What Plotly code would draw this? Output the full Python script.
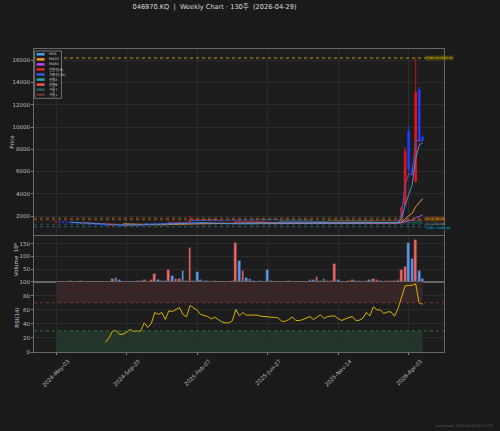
import pandas as pd
import plotly.graph_objects as go
from plotly.subplots import make_subplots

# weekly bars, labelled by week-ending Friday
dates = pd.date_range("2024-05-03", periods=105, freq="W-FRI")

opens = [1460, 1480, 1470, 1450, 1430, 1400, 1390, 1330, 1340, 1320,
         1290, 1270, 1250, 1230, 1200, 1150, 1160, 1210, 1195, 1172,
         1170, 1180, 1195, 1185, 1195, 1190, 1230, 1200, 1225, 1305,
         1315, 1310, 1270, 1360, 1335, 1360, 1390, 1330, 1310, 1450,
         1430, 1400, 1370, 1365, 1355, 1340, 1350, 1335, 1315, 1306,
         1305, 1315, 1400, 1370, 1390, 1380, 1375, 1372, 1374, 1368,
         1380, 1362, 1360, 1356, 1352, 1330, 1335, 1345, 1360, 1336,
         1335, 1342, 1365, 1360, 1345, 1355, 1370, 1350, 1362, 1365,
         1367, 1352, 1340, 1350, 1357, 1364, 1340, 1342, 1400, 1390,
         1370, 1400, 1415, 1412, 1395, 1395, 1405, 1380, 1940, 3000,
         9650, 6200, 5100, 13360, 9100]
highs = [1500, 1490, 1475, 1460, 1440, 1410, 1395, 1420, 1345, 1325,
         1300, 1275, 1255, 1235, 1205, 1175, 1260, 1240, 1200, 1180,
         1190, 1200, 1198, 1190, 1200, 1260, 1235, 1240, 1340, 1320,
         1330, 1315, 1570, 1390, 1380, 1400, 1420, 1340, 2030, 1470,
         1480, 1405, 1380, 1370, 1360, 1360, 1352, 1340, 1320, 1312,
         1320, 1650, 1450, 1420, 1400, 1385, 1380, 1378, 1378, 1370,
         1420, 1366, 1362, 1360, 1355, 1340, 1360, 1365, 1362, 1340,
         1345, 1352, 1372, 1362, 1400, 1375, 1380, 1366, 1368, 1460,
         1372, 1355, 1354, 1360, 1380, 1366, 1346, 1358, 1420, 1395,
         1450, 1440, 1420, 1415, 1410, 1415, 1408, 1440, 2900, 8200,
         10180, 6600, 16200, 13650, 9300]
lows = [1440, 1455, 1440, 1420, 1390, 1375, 1350, 1320, 1310, 1280,
        1260, 1240, 1220, 1190, 1130, 1140, 1150, 1180, 1160, 1160,
        1165, 1175, 1180, 1175, 1180, 1185, 1195, 1195, 1220, 1280,
        1300, 1260, 1265, 1320, 1330, 1355, 1320, 1300, 1305, 1420,
        1390, 1360, 1355, 1350, 1335, 1335, 1330, 1310, 1300, 1298,
        1300, 1310, 1360, 1360, 1370, 1365, 1368, 1368, 1362, 1360,
        1355, 1355, 1350, 1348, 1325, 1326, 1330, 1342, 1330, 1330,
        1332, 1340, 1350, 1340, 1342, 1352, 1345, 1348, 1358, 1350,
        1348, 1336, 1338, 1348, 1352, 1336, 1336, 1340, 1380, 1365,
        1368, 1395, 1405, 1390, 1392, 1390, 1375, 1378, 1900, 2950,
        5510, 5600, 5000, 8230, 8700]
closes = [1480, 1470, 1450, 1430, 1400, 1390, 1360, 1340, 1320, 1290,
          1270, 1250, 1230, 1200, 1150, 1165, 1190, 1195, 1170, 1170,
          1180, 1195, 1185, 1180, 1190, 1230, 1200, 1225, 1300, 1290,
          1310, 1270, 1340, 1335, 1360, 1380, 1330, 1310, 1450, 1430,
          1400, 1370, 1365, 1355, 1340, 1350, 1335, 1315, 1305, 1305,
          1315, 1400, 1370, 1390, 1375, 1375, 1372, 1374, 1368, 1365,
          1362, 1360, 1356, 1352, 1330, 1335, 1345, 1360, 1335, 1335,
          1342, 1350, 1360, 1345, 1355, 1370, 1350, 1362, 1365, 1367,
          1352, 1340, 1350, 1357, 1364, 1340, 1342, 1355, 1390, 1370,
          1430, 1415, 1412, 1395, 1405, 1405, 1380, 1430, 2750, 7850,
          6180, 5900, 13150, 8800, 8850]
# volume in millions of shares
volume_m = [1.0, 0.8, 1.2, 1.5, 2.0, 1.2, 1.0, 4.5, 1.0, 0.8,
            0.7, 0.9, 1.0, 0.8, 1.2, 1.5, 12, 14.5, 6.5, 1.5,
            1.2, 1.0, 1.5, 2.0, 3.0, 6.5, 1.5, 9, 33, 8,
            4, 5, 46, 22, 13, 13.5, 42, 5, 133, 4,
            38, 6, 4, 2, 1.5, 3, 1.2, 1.0, 1.5, 1.2,
            2.0, 154, 82, 42, 14.5, 11, 3, 1.5, 4, 1.5,
            49, 2, 1.2, 1.0, 1.2, 1.0, 2.5, 1.0, 1.2, 0.8,
            1.0, 1.5, 6, 6, 18.5, 2, 13, 4, 2, 71,
            6, 1.5, 1.2, 3, 8, 4, 2, 1.5, 5, 7,
            10, 7, 4, 1.5, 2, 5, 4, 6, 49, 58,
            155, 92, 164, 45, 13]
# RSI(14): first 14 weeks have no value
rsi_values = [None] * 14 + [
    13.4, 20, 29.5, 30.5, 25, 25.3, 28, 32, 29.5, 29.5,
    30, 41.4, 34.8, 40.5, 56.2, 53.4, 56.2, 46.2, 58.6, 57.6,
    61, 63.3, 53.4, 50, 66.2, 63.3, 59.5, 53.4, 52.4, 50.5,
    47.1, 49.5, 46.2, 42.9, 41.4, 41.4, 44.3, 60.5, 51.4, 56.2,
    52.4, 52.4, 52.2, 52.6, 51, 50.2, 49.8, 49.5, 49.3, 48.5,
    43.5, 43.8, 46.2, 50, 44.8, 44.8, 46.2, 48.1, 50.5, 46.2,
    49, 52.9, 47.6, 50.5, 51, 51.4, 47.6, 44.8, 47.1, 49,
    50.5, 44.8, 45.2, 48.1, 56.2, 51.4, 64.3, 60, 59.5, 54.8,
    57.1, 57.1, 51, 62, 78.6, 94, 94.8, 94.8, 97.2, 69, 68.2]

level_values = [16200, 1730, 1250, 1040]
level_labels = ["52W H 16200.00", "R1 1730.00", "S1 1250.00", "52W L 1040.00"]
tick_dates = [dates[i] for i in (0, 20, 40, 60, 80, 100)]

FONT = "DejaVu Sans, Noto Sans CJK KR, sans-serif"
BG = "#1a1a1a"
PLOT_BG = "#1d1d1d"
GRID = "#2b2b2b"
SPINE = "#666666"
TICK = "#bdbdbd"
UP, DOWN = "#f01414", "#1f3dff"

# indicators from the bars
close = pd.Series(closes)
high = pd.Series(highs)
low = pd.Series(lows)
ma5 = close.rolling(5).mean()
ma20 = close.rolling(20).mean()
ma60 = close.rolling(60).mean()
tenkan = (high.rolling(9).max() + low.rolling(9).min()) / 2
kijun = (high.rolling(26).max() + low.rolling(26).min()) / 2
span_a = ((tenkan + kijun) / 2).shift(26)
span_b = ((high.rolling(52).max() + low.rolling(52).min()) / 2).shift(26)

# plot area in pixels: x 30..444, y 49..352
L, R, T, B = 30, 56, 49, 79
W, H = 500, 431
PW, PH = W - L - R, H - T - B


def px(x):
    return (x - L) / PW


def py(y):
    return (H - B - y) / PH


fig = make_subplots(rows=3, cols=1, shared_xaxes=True, vertical_spacing=0)

# cloud, then the lines, then the candles on top
fig.add_trace(go.Scatter(x=dates, y=span_b, mode="lines",
                         line=dict(color="rgba(239,83,80,0.55)", width=0.7)), row=1, col=1)
fig.add_trace(go.Scatter(x=dates, y=span_a, mode="lines", fill="tonexty",
                         fillcolor="rgba(38,166,154,0.18)",
                         line=dict(color="rgba(38,166,154,0.6)", width=0.7)), row=1, col=1)
fig.add_trace(go.Scatter(x=dates, y=tenkan, mode="lines",
                         line=dict(color="#d62728", width=0.8)), row=1, col=1)
fig.add_trace(go.Scatter(x=dates, y=kijun, mode="lines",
                         line=dict(color="#2f5bd6", width=0.8)), row=1, col=1)
fig.add_trace(go.Scatter(x=dates, y=ma60, mode="lines",
                         line=dict(color="#b844e6", width=1)), row=1, col=1)
fig.add_trace(go.Scatter(x=dates, y=ma20, mode="lines",
                         line=dict(color="#f0913a", width=1)), row=1, col=1)
fig.add_trace(go.Scatter(x=dates, y=ma5, mode="lines",
                         line=dict(color="#3f8fe0", width=1)), row=1, col=1)
fig.add_trace(go.Candlestick(
    x=dates, open=opens, high=highs, low=lows, close=closes,
    increasing=dict(line=dict(color=UP, width=0.8), fillcolor=UP),
    decreasing=dict(line=dict(color=DOWN, width=0.8), fillcolor=DOWN),
    whiskerwidth=0), row=1, col=1)

vol_colors = ["#f26464" if c >= o else "#5c96f2" for o, c in zip(opens, closes)]
fig.add_trace(go.Bar(x=dates, y=volume_m, width=0.8 * 7 * 86400000,
                     marker=dict(color=vol_colors, line=dict(color="#2a2a2a", width=0.5))),
              row=2, col=1)

fig.add_trace(go.Scatter(x=dates, y=rsi_values, mode="lines",
                         line=dict(color="#d9b400", width=1)), row=3, col=1)

shapes = []
# RSI zones
shapes.append(dict(type="rect", xref="x3", yref="y3", x0=dates[0], x1=dates[-1], y0=70, y1=100,
                   fillcolor="#382626", line_width=0, layer="below"))
shapes.append(dict(type="rect", xref="x3", yref="y3", x0=dates[0], x1=dates[-1], y0=0, y1=30,
                   fillcolor="#233629", line_width=0, layer="below"))
shapes.append(dict(type="line", xref="x3 domain", yref="y3", x0=0, x1=1, y0=70, y1=70,
                   line=dict(color="#7a3636", width=1, dash="dot")))
shapes.append(dict(type="line", xref="x3 domain", yref="y3", x0=0, x1=1, y0=30, y1=30,
                   line=dict(color="#3a6e46", width=1, dash="dot")))

# price levels; labels sit at fixed pixel rows so they don't collide
level_styles = [
    ("rgba(170,150,0,0.55)", 2, "#d8bc00", "rgba(100,85,0,0.5)", 58),
    ("rgba(190,110,30,0.45)", 3, "#e89a3c", "rgba(110,65,10,0.55)", 219.3),
    ("rgba(60,110,120,0.6)", 1, "#8fa6b8", "rgba(0,0,0,0)", 223.6),
    ("rgba(40,150,170,0.6)", 1, "#2cb0d0", "rgba(10,40,50,0.6)", 227.5),
]
annotations = []
for val, lab, (lc, lw, tc, bg, ly) in zip(level_values, level_labels, level_styles):
    shapes.append(dict(type="line", xref="x domain", yref="y", x0=0, x1=1, y0=val, y1=val,
                       line=dict(color=lc, width=lw, dash="dot")))
    annotations.append(dict(xref="paper", yref="paper", x=px(425), y=py(ly), text=lab,
                            showarrow=False, xanchor="left", yanchor="middle",
                            font=dict(size=3.2, color=tc, family=FONT),
                            bgcolor=bg, borderpad=0))

# legend drawn by hand to keep it compact
legend_items = [("MA5", "#3f9bf0"), ("MA20", "#f0913a"), ("MA60", "#c040f0"),
                ("전환선(9)", "#e02828"), ("기준선(26)", "#2f5bd6"),
                ("선행A", "#26a69a"), ("선행B", "#ef5350"),
                ("구름↑", "#2d5a55"), ("구름↓", "#6a2e2e")]
shapes.append(dict(type="rect", xref="paper", yref="paper", x0=px(30.7), x1=px(57.7),
                   y0=py(98.3), y1=py(51), fillcolor="rgba(26,26,26,0.85)",
                   line=dict(color="#8a8a8a", width=0.8)))
for i, (name, col) in enumerate(legend_items):
    yc = 54.3 + i * 5.05
    shapes.append(dict(type="rect", xref="paper", yref="paper", x0=px(32.7), x1=px(40.7),
                       y0=py(yc + 1.3), y1=py(yc - 1.3), fillcolor=col, line_width=0))
    annotations.append(dict(xref="paper", yref="paper", x=px(42.7), y=py(yc), text=name,
                            showarrow=False, xanchor="left", yanchor="middle",
                            font=dict(size=3.4, color="#cfcfcf", family=FONT)))

# axis titles
for text, x, y in [("Price", 7.5, 142), ("Volume  10⁶", 12, 259), ("RSI(14)", 12.5, 318)]:
    annotations.append(dict(xref="paper", yref="paper", x=px(x), y=py(y), text=text,
                            textangle=-90, showarrow=False, xanchor="center", yanchor="middle",
                            font=dict(size=5.5, color="#cccccc", family=FONT)))

annotations.append(dict(xref="paper", yref="paper", x=px(497), y=py(425.7),
                        text="Generated: 2026-04-29 06:38 KST", showarrow=False,
                        xanchor="right", yanchor="middle",
                        font=dict(size=3.4, color="#5a5a5a", family=FONT)))

x_range = [dates[0] - pd.Timedelta(weeks=6.26), dates[0] + pd.Timedelta(weeks=110.03)]
axis_common = dict(showline=True, linecolor=SPINE, linewidth=1, mirror=True,
                   gridcolor=GRID, gridwidth=0.6, zeroline=False,
                   ticks="outside", ticklen=2, tickcolor="#888888",
                   tickfont=dict(size=5.5, color=TICK, family=FONT))

fig.update_layout(
    width=W, height=H,
    margin=dict(l=L, r=R, t=T, b=B),
    paper_bgcolor=BG, plot_bgcolor=PLOT_BG,
    showlegend=False,
    shapes=shapes, annotations=annotations,
    title=dict(text="046970.KQ  |  Weekly Chart · 130주  (2026-04-29)",
               x=214.5 / W, xanchor="center", y=1 - 6.5 / H, yanchor="middle",
               font=dict(size=6.6, color="#dddddd", family=FONT)),
    bargap=0,
)
fig.update_xaxes(axis_common, range=x_range, tickvals=tick_dates, rangeslider_visible=False)
fig.update_xaxes(showticklabels=False, row=1, col=1)
fig.update_xaxes(showticklabels=False, row=2, col=1)
fig.update_xaxes(tickformat="%Y-%b-%d", tickangle=-45, ticklabelshift=12,
                 ticklabelstandoff=1, row=3, col=1)

fig.update_yaxes(axis_common)
fig.update_yaxes(domain=[py(235.3), 1], range=[264, 17018],
                 tickvals=[2000, 4000, 6000, 8000, 10000, 12000, 14000, 16000],
                 tickformat="d", row=1, col=1)
fig.update_yaxes(domain=[py(281.7), py(235.7)], range=[0, 181.6],
                 tickvals=[50, 100, 150], row=2, col=1)
fig.update_yaxes(domain=[0, py(281.7)], range=[0, 100],
                 tickvals=[0, 20, 40, 60, 80, 100], row=3, col=1)

# drop the default body margin so the 500x431 figure fills the window
fig.write_html("out.html", config={"displayModeBar": False},
               post_script="document.body.style.margin='0';")
